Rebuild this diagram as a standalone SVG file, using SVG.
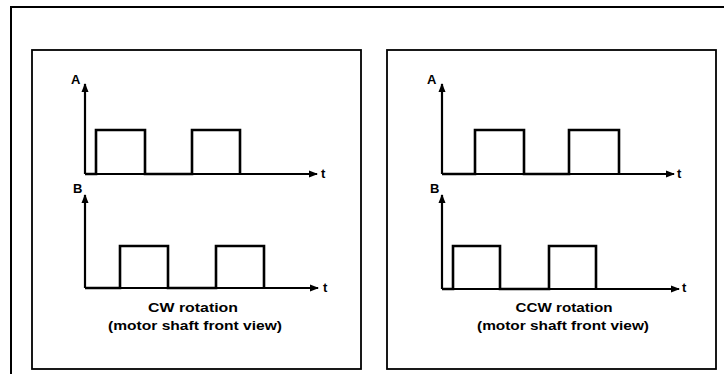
<svg xmlns="http://www.w3.org/2000/svg" width="724" height="374" viewBox="0 0 724 374">
<style>
.frame{fill:none;stroke:#000;stroke-width:2}
.panel{fill:#fff;stroke:#000;stroke-width:1.8}
.ax{fill:none;stroke:#000;stroke-width:2.2}
.sig{fill:none;stroke:#000;stroke-width:2.6;stroke-linejoin:miter}
.lbl{font-family:"Liberation Sans",Arial,sans-serif;font-weight:bold;font-size:13px;fill:#000}
.cap{font-family:"Liberation Sans",Arial,sans-serif;font-weight:bold;font-size:13px;fill:#000;text-anchor:middle}
</style>
<defs>
<marker id="ah" markerWidth="9" markerHeight="8" refX="8" refY="4" orient="auto" markerUnits="userSpaceOnUse">
<path d="M0,0.5 L9,4 L0,7.5 Z" fill="#000"/>
</marker>
</defs>
<rect width="724" height="374" fill="#fff"/>
<rect class="frame" x="11" y="7" width="720" height="372"/>
<g id="panel-cw">
<rect class="panel" x="32" y="50" width="329" height="319"/>
<text class="lbl" x="71" y="84">A</text>
<text class="lbl" x="73" y="193">B</text>
<text class="lbl" x="321" y="178" font-size="12">t</text>
<text class="lbl" x="323" y="292" font-size="12">t</text>
<text class="cap" x="193" y="312" textLength="90" lengthAdjust="spacingAndGlyphs">CW rotation</text>
<text class="cap" x="195" y="330" textLength="174" lengthAdjust="spacingAndGlyphs">(motor shaft front view)</text>
</g>
<g id="panel-ccw">
<rect class="panel" x="387" y="50" width="329" height="319"/>
<text class="lbl" x="427" y="84">A</text>
<text class="lbl" x="430" y="193">B</text>
<text class="lbl" x="677" y="178" font-size="12">t</text>
<text class="lbl" x="682" y="292" font-size="12">t</text>
<text class="cap" x="564" y="312" textLength="97" lengthAdjust="spacingAndGlyphs">CCW rotation</text>
<text class="cap" x="563" y="330" textLength="172" lengthAdjust="spacingAndGlyphs">(motor shaft front view)</text>
</g>
<g id="connectors">
<path class="ax" d="M85,174 V84" marker-end="url(#ah)"/>
<path class="ax" d="M85,174 H317" marker-end="url(#ah)"/>
<path class="sig" d="M85,174 H96 V130 H145 V174 H192 V130 H240 V174"/>
<path class="ax" d="M85,288 V195" marker-end="url(#ah)"/>
<path class="ax" d="M85,288 H318" marker-end="url(#ah)"/>
<path class="sig" d="M85,288 H120 V246 H168 V288 H216 V246 H264 V288"/>
<path class="ax" d="M442,174 V84" marker-end="url(#ah)"/>
<path class="ax" d="M442,174 H674" marker-end="url(#ah)"/>
<path class="sig" d="M442,174 H475 V130 H524 V174 H569 V130 H619 V174"/>
<path class="ax" d="M442,289 V195" marker-end="url(#ah)"/>
<path class="ax" d="M442,289 H679" marker-end="url(#ah)"/>
<path class="sig" d="M442,289 H453 V246 H500 V289 H549 V246 H596 V289"/>
</g>
</svg>
